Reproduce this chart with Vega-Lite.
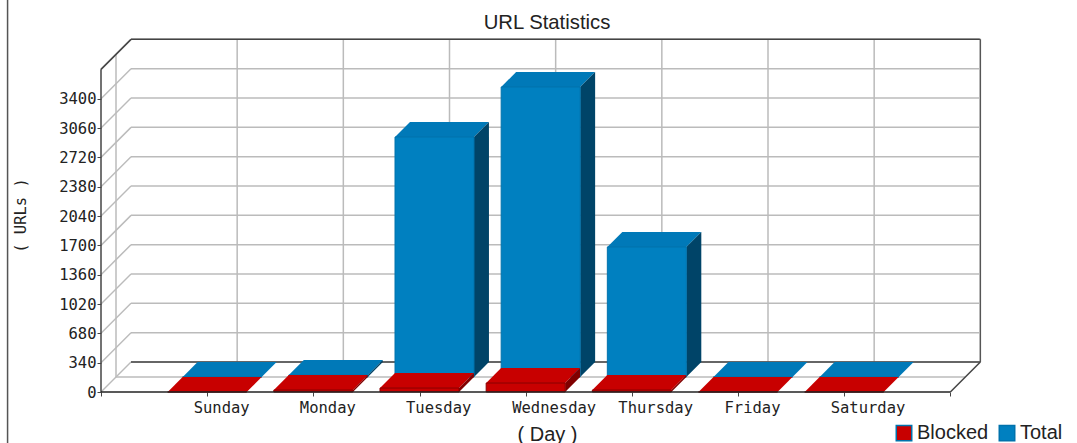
{
"$schema":"https://vega.github.io/schema/vega-lite/v6.json",
"width":878,"height":353,
"autosize":{"type":"none"},
"padding":{"left":101,"top":39,"right":98,"bottom":51},
"background":"#ffffff",
"title":{"text":"URL Statistics","anchor":"middle","frame":"group","dx":7,"offset":-34,"font":"Liberation Sans","fontSize":20.3,"fontWeight":"normal","color":"#222222"},
"config":{"view":{"stroke":null}},
"datasets":{
"levels":[{"v":0},{"v":340},{"v":680},{"v":1020},{"v":1360},{"v":1700},{"v":2040},{"v":2380},{"v":2720},{"v":3060},{"v":3400},{"v":3740}],
"slots":[{"slot":1},{"slot":2},{"slot":3},{"slot":4},{"slot":5},{"slot":6},{"slot":7}],
"one":[{"low":0,"high":3740}],
"bars":[
{"day":"Sunday","slot":1,"series":"Total","value":0},
{"day":"Monday","slot":2,"series":"Total","value":23},
{"day":"Tuesday","slot":3,"series":"Total","value":2782},
{"day":"Wednesday","slot":4,"series":"Total","value":3362},
{"day":"Thursday","slot":5,"series":"Total","value":1507},
{"day":"Friday","slot":6,"series":"Total","value":0},
{"day":"Saturday","slot":7,"series":"Total","value":0},
{"day":"Sunday","slot":1,"series":"Blocked","value":0},
{"day":"Monday","slot":2,"series":"Blocked","value":23},
{"day":"Tuesday","slot":3,"series":"Blocked","value":46},
{"day":"Wednesday","slot":4,"series":"Blocked","value":104},
{"day":"Thursday","slot":5,"series":"Blocked","value":23},
{"day":"Friday","slot":6,"series":"Blocked","value":0},
{"day":"Saturday","slot":7,"series":"Blocked","value":0}
],
"totalFaces":[
{"id":"t1","part":"Total top","x":0.628,"lo":0,"hi":0},{"id":"t1","part":"Total top","x":0.769,"lo":0,"hi":174},{"id":"t1","part":"Total top","x":1.372,"lo":0,"hi":174},{"id":"t1","part":"Total top","x":1.513,"lo":174,"hi":174},
{"id":"t2","part":"Total top","x":1.628,"lo":23,"hi":23},{"id":"t2","part":"Total top","x":1.769,"lo":23,"hi":197},{"id":"t2","part":"Total top","x":2.372,"lo":23,"hi":197},{"id":"t2","part":"Total top","x":2.513,"lo":197,"hi":197},
{"id":"t3","part":"Total top","x":2.628,"lo":2782,"hi":2782},{"id":"t3","part":"Total top","x":2.769,"lo":2782,"hi":2956},{"id":"t3","part":"Total top","x":3.372,"lo":2782,"hi":2956},{"id":"t3","part":"Total top","x":3.513,"lo":2956,"hi":2956},
{"id":"t4","part":"Total top","x":3.628,"lo":3362,"hi":3362},{"id":"t4","part":"Total top","x":3.769,"lo":3362,"hi":3536},{"id":"t4","part":"Total top","x":4.372,"lo":3362,"hi":3536},{"id":"t4","part":"Total top","x":4.513,"lo":3536,"hi":3536},
{"id":"t5","part":"Total top","x":4.628,"lo":1507,"hi":1507},{"id":"t5","part":"Total top","x":4.769,"lo":1507,"hi":1681},{"id":"t5","part":"Total top","x":5.372,"lo":1507,"hi":1681},{"id":"t5","part":"Total top","x":5.513,"lo":1681,"hi":1681},
{"id":"t6","part":"Total top","x":5.628,"lo":0,"hi":0},{"id":"t6","part":"Total top","x":5.769,"lo":0,"hi":174},{"id":"t6","part":"Total top","x":6.372,"lo":0,"hi":174},{"id":"t6","part":"Total top","x":6.513,"lo":174,"hi":174},
{"id":"t7","part":"Total top","x":6.628,"lo":0,"hi":0},{"id":"t7","part":"Total top","x":6.769,"lo":0,"hi":174},{"id":"t7","part":"Total top","x":7.372,"lo":0,"hi":174},{"id":"t7","part":"Total top","x":7.513,"lo":174,"hi":174},
{"id":"s2","part":"Total side","x":2.372,"lo":0,"hi":23},{"id":"s2","part":"Total side","x":2.513,"lo":174,"hi":197},
{"id":"s3","part":"Total side","x":3.372,"lo":0,"hi":2782},{"id":"s3","part":"Total side","x":3.513,"lo":174,"hi":2956},
{"id":"s4","part":"Total side","x":4.372,"lo":0,"hi":3362},{"id":"s4","part":"Total side","x":4.513,"lo":174,"hi":3536},
{"id":"s5","part":"Total side","x":5.372,"lo":0,"hi":1507},{"id":"s5","part":"Total side","x":5.513,"lo":174,"hi":1681}
],
"blockedFaces":[
{"id":"b1","part":"Blocked top","x":0.628,"lo":0,"hi":0},{"id":"b1","part":"Blocked top","x":0.769,"lo":0,"hi":174},{"id":"b1","part":"Blocked top","x":1.372,"lo":0,"hi":174},{"id":"b1","part":"Blocked top","x":1.513,"lo":174,"hi":174},
{"id":"b2","part":"Blocked top","x":1.628,"lo":23,"hi":23},{"id":"b2","part":"Blocked top","x":1.769,"lo":23,"hi":197},{"id":"b2","part":"Blocked top","x":2.372,"lo":23,"hi":197},{"id":"b2","part":"Blocked top","x":2.513,"lo":197,"hi":197},
{"id":"b3","part":"Blocked top","x":2.628,"lo":46,"hi":46},{"id":"b3","part":"Blocked top","x":2.769,"lo":46,"hi":220},{"id":"b3","part":"Blocked top","x":3.372,"lo":46,"hi":220},{"id":"b3","part":"Blocked top","x":3.513,"lo":220,"hi":220},
{"id":"b4","part":"Blocked top","x":3.628,"lo":104,"hi":104},{"id":"b4","part":"Blocked top","x":3.769,"lo":104,"hi":278},{"id":"b4","part":"Blocked top","x":4.372,"lo":104,"hi":278},{"id":"b4","part":"Blocked top","x":4.513,"lo":278,"hi":278},
{"id":"b5","part":"Blocked top","x":4.628,"lo":23,"hi":23},{"id":"b5","part":"Blocked top","x":4.769,"lo":23,"hi":197},{"id":"b5","part":"Blocked top","x":5.372,"lo":23,"hi":197},{"id":"b5","part":"Blocked top","x":5.513,"lo":197,"hi":197},
{"id":"b6","part":"Blocked top","x":5.628,"lo":0,"hi":0},{"id":"b6","part":"Blocked top","x":5.769,"lo":0,"hi":174},{"id":"b6","part":"Blocked top","x":6.372,"lo":0,"hi":174},{"id":"b6","part":"Blocked top","x":6.513,"lo":174,"hi":174},
{"id":"b7","part":"Blocked top","x":6.628,"lo":0,"hi":0},{"id":"b7","part":"Blocked top","x":6.769,"lo":0,"hi":174},{"id":"b7","part":"Blocked top","x":7.372,"lo":0,"hi":174},{"id":"b7","part":"Blocked top","x":7.513,"lo":174,"hi":174},
{"id":"r2","part":"Blocked side","x":2.372,"lo":0,"hi":23},{"id":"r2","part":"Blocked side","x":2.513,"lo":174,"hi":197},
{"id":"r3","part":"Blocked side","x":3.372,"lo":0,"hi":46},{"id":"r3","part":"Blocked side","x":3.513,"lo":174,"hi":220},
{"id":"r4","part":"Blocked side","x":4.372,"lo":0,"hi":104},{"id":"r4","part":"Blocked side","x":4.513,"lo":174,"hi":278},
{"id":"r5","part":"Blocked side","x":5.372,"lo":0,"hi":23},{"id":"r5","part":"Blocked side","x":5.513,"lo":174,"hi":197}
]
},
"layer":[
{"data":{"name":"levels"},"mark":{"type":"rule","color":"#bbbbbb","strokeWidth":1.5,"yOffset":-30,"y2Offset":-30},
 "encoding":{
  "x":{"datum":0.282,"type":"quantitative","scale":{"domain":[0,8.27],"nice":false,"zero":false,"padding":0},
   "axis":{"values":[0,1,2,3,4,5,6,7,8],"tickCount":12,"domain":false,"grid":false,"tickColor":"#444444","tickSize":4,"labelFont":"DejaVu Sans Mono","labelFontSize":15.5,"labelColor":"#222222","labelAlign":"left","labelOffset":-14,"labelPadding":4,"labelFlush":false,"labelOverlap":false,"labelBound":false,
   "labelExpr":"['','Sunday','Monday','Tuesday','Wednesday','Thursday','Friday','Saturday',''][datum.value]",
   "title":"( Day )","titleFont":"Liberation Sans","titleFontSize":20,"titleFontWeight":"normal","titleColor":"#222222","titleX":446,"titleY":32}},
  "x2":{"datum":8.27},
  "y":{"field":"v","type":"quantitative","scale":{"domain":[0,4092],"nice":false,"zero":false,"padding":0},
   "axis":{"values":[0,340,680,1020,1360,1700,2040,2380,2720,3060,3400],"tickCount":12,"format":"d","domain":false,"grid":false,"tickColor":"#444444","tickSize":4,"labelFont":"DejaVu Sans Mono","labelFontSize":15.5,"labelColor":"#222222","labelPadding":1,"labelOverlap":false,
   "title":"( URLs )","titleFont":"DejaVu Sans Mono","titleFontSize":15.5,"titleFontWeight":"normal","titleColor":"#222222","titleX":-73,"titleY":176,"titleAngle":270}},
  "y2":{"field":"v"}
 }},
{"data":{"name":"levels"},"mark":{"type":"rule","color":"#bbbbbb","strokeWidth":1.5,"x2Offset":30,"y2Offset":-30},
 "encoding":{
  "x":{"datum":0,"type":"quantitative","scale":{"domain":[0,8.27],"nice":false,"zero":false,"padding":0}},
  "x2":{"datum":0},
  "y":{"field":"v","type":"quantitative","scale":{"domain":[0,4092],"nice":false,"zero":false,"padding":0}},
  "y2":{"field":"v"}
 }},
{"data":{"name":"slots"},"mark":{"type":"rule","color":"#bbbbbb","strokeWidth":1.5,"xOffset":30,"yOffset":-30,"y2Offset":-30},
 "encoding":{
  "x":{"field":"slot","type":"quantitative","scale":{"domain":[0,8.27],"nice":false,"zero":false,"padding":0}},
  "y":{"datum":0,"type":"quantitative","scale":{"domain":[0,4092],"nice":false,"zero":false,"padding":0}},
  "y2":{"datum":3740}
 }},
{"data":{"name":"one"},"mark":{"type":"rule","color":"#bbbbbb","strokeWidth":1.5,"xOffset":15,"yOffset":-15,"y2Offset":-15},
 "encoding":{
  "x":{"datum":0,"type":"quantitative","scale":{"domain":[0,8.27],"nice":false,"zero":false,"padding":0}},
  "y":{"field":"low","type":"quantitative","scale":{"domain":[0,4092],"nice":false,"zero":false,"padding":0}},
  "y2":{"field":"high"}
 }},
{"data":{"name":"one"},"mark":{"type":"rule","color":"#bbbbbb","strokeWidth":1.5,"yOffset":-15,"xOffset":15,"x2Offset":15},
 "encoding":{
  "x":{"datum":0,"type":"quantitative","scale":{"domain":[0,8.27],"nice":false,"zero":false,"padding":0}},
  "x2":{"datum":8},
  "y":{"field":"low","type":"quantitative","scale":{"domain":[0,4092],"nice":false,"zero":false,"padding":0}}
 }},
{"data":{"name":"one"},"mark":{"type":"rule","color":"#444444","strokeWidth":1.5},
 "encoding":{
  "x":{"datum":0,"type":"quantitative","scale":{"domain":[0,8.27],"nice":false,"zero":false,"padding":0}},
  "y":{"field":"low","type":"quantitative","scale":{"domain":[0,4092],"nice":false,"zero":false,"padding":0}},
  "y2":{"field":"high"}
 }},
{"data":{"name":"one"},"mark":{"type":"rule","color":"#444444","strokeWidth":1.5,"x2Offset":30,"y2Offset":-30},
 "encoding":{
  "x":{"datum":0,"type":"quantitative","scale":{"domain":[0,8.27],"nice":false,"zero":false,"padding":0}},
  "x2":{"datum":0},
  "y":{"field":"high","type":"quantitative","scale":{"domain":[0,4092],"nice":false,"zero":false,"padding":0}},
  "y2":{"field":"high"}
 }},
{"data":{"name":"one"},"mark":{"type":"rule","color":"#444444","strokeWidth":1.5,"xOffset":30,"x2Offset":30,"yOffset":-30},
 "encoding":{
  "x":{"datum":0,"type":"quantitative","scale":{"domain":[0,8.27],"nice":false,"zero":false,"padding":0}},
  "x2":{"datum":8},
  "y":{"field":"high","type":"quantitative","scale":{"domain":[0,4092],"nice":false,"zero":false,"padding":0}}
 }},
{"data":{"name":"one"},"mark":{"type":"rule","color":"#444444","strokeWidth":1.5,"xOffset":30,"x2Offset":30,"yOffset":-30},
 "encoding":{
  "x":{"datum":0,"type":"quantitative","scale":{"domain":[0,8.27],"nice":false,"zero":false,"padding":0}},
  "x2":{"datum":8},
  "y":{"field":"low","type":"quantitative","scale":{"domain":[0,4092],"nice":false,"zero":false,"padding":0}}
 }},
{"data":{"name":"one"},"mark":{"type":"rule","color":"#555555","strokeWidth":1.5,"xOffset":30,"yOffset":-30,"y2Offset":-30},
 "encoding":{
  "x":{"datum":8,"type":"quantitative","scale":{"domain":[0,8.27],"nice":false,"zero":false,"padding":0}},
  "y":{"field":"low","type":"quantitative","scale":{"domain":[0,4092],"nice":false,"zero":false,"padding":0}},
  "y2":{"field":"high"}
 }},
{"data":{"name":"one"},"mark":{"type":"rule","color":"#444444","strokeWidth":1.5,"x2Offset":30,"y2Offset":-30},
 "encoding":{
  "x":{"datum":8,"type":"quantitative","scale":{"domain":[0,8.27],"nice":false,"zero":false,"padding":0}},
  "x2":{"datum":8},
  "y":{"field":"low","type":"quantitative","scale":{"domain":[0,4092],"nice":false,"zero":false,"padding":0}},
  "y2":{"field":"low"}
 }},
{"data":{"name":"totalFaces"},"mark":{"type":"area","xOffset":15,"yOffset":-15,"y2Offset":-15},
 "encoding":{
  "x":{"field":"x","type":"quantitative","scale":{"domain":[0,8.27],"nice":false,"zero":false,"padding":0}},
  "y":{"field":"lo","type":"quantitative","scale":{"domain":[0,4092],"nice":false,"zero":false,"padding":0}},
  "y2":{"field":"hi"},
  "detail":{"field":"id"},
  "color":{"field":"part","type":"nominal","scale":{"domain":["Blocked","Total","Blocked top","Total top","Blocked side","Total side"],"range":["#c80000","#0080c0","#c80000","#0079b8","#800000","#004468"]}}
 }},
{"data":{"name":"bars"},"transform":[{"filter":"datum.series == 'Total'"}],"mark":{"type":"bar","width":79,"xOffset":15,"yOffset":-15,"y2Offset":-15,"stroke":"#0072ac","strokeWidth":1},
 "encoding":{
  "x":{"field":"slot","type":"quantitative","scale":{"domain":[0,8.27],"nice":false,"zero":false,"padding":0}},
  "y":{"field":"value","type":"quantitative","scale":{"domain":[0,4092],"nice":false,"zero":false,"padding":0}},
  "y2":{"datum":0},
  "color":{"field":"series","type":"nominal","scale":{"domain":["Blocked","Total","Blocked top","Total top","Blocked side","Total side"],"range":["#c80000","#0080c0","#c80000","#0079b8","#800000","#004468"]}}
 }},
{"data":{"name":"blockedFaces"},"mark":{"type":"area"},
 "encoding":{
  "x":{"field":"x","type":"quantitative","scale":{"domain":[0,8.27],"nice":false,"zero":false,"padding":0}},
  "y":{"field":"lo","type":"quantitative","scale":{"domain":[0,4092],"nice":false,"zero":false,"padding":0}},
  "y2":{"field":"hi"},
  "detail":{"field":"id"},
  "color":{"field":"part","type":"nominal","scale":{"domain":["Blocked","Total","Blocked top","Total top","Blocked side","Total side"],"range":["#c80000","#0080c0","#c80000","#0079b8","#800000","#004468"]}}
 }},
{"data":{"name":"bars"},"transform":[{"filter":"datum.series == 'Blocked'"}],"mark":{"type":"bar","width":79,"stroke":"#8a0000","strokeWidth":1},
 "encoding":{
  "x":{"field":"slot","type":"quantitative","scale":{"domain":[0,8.27],"nice":false,"zero":false,"padding":0}},
  "y":{"field":"value","type":"quantitative","scale":{"domain":[0,4092],"nice":false,"zero":false,"padding":0}},
  "y2":{"datum":0},
  "color":{"field":"series","type":"nominal","scale":{"domain":["Blocked","Total","Blocked top","Total top","Blocked side","Total side"],"range":["#c80000","#0080c0","#c80000","#0079b8","#800000","#004468"]},
   "legend":{"orient":"none","legendX":793,"legendY":384,"direction":"horizontal","title":null,"values":["Blocked","Total"],"symbolType":"square","symbolSize":240,"symbolStrokeColor":"#555555","symbolStrokeWidth":1.5,"labelFont":"Liberation Sans","labelFontSize":20,"labelColor":"#222222","labelLimit":200,"labelOffset":3,"columnPadding":7,"padding":0}}
 }},
{"data":{"name":"one"},"mark":{"type":"rule","color":"#222222","strokeWidth":1.5},
 "encoding":{
  "x":{"datum":0,"type":"quantitative","scale":{"domain":[0,8.27],"nice":false,"zero":false,"padding":0}},
  "x2":{"datum":8},
  "y":{"field":"low","type":"quantitative","scale":{"domain":[0,4092],"nice":false,"zero":false,"padding":0}}
 }},
{"data":{"values":[{"frameLow":-592,"frameHigh":4544}]},"mark":{"type":"rule","color":"#555555","strokeWidth":1.5},
 "encoding":{
  "x":{"datum":-0.88,"type":"quantitative","scale":{"domain":[0,8.27],"nice":false,"zero":false,"padding":0}},
  "y":{"field":"frameLow","type":"quantitative","scale":{"domain":[0,4092],"nice":false,"zero":false,"padding":0}},
  "y2":{"field":"frameHigh"}
 }}
]
}
